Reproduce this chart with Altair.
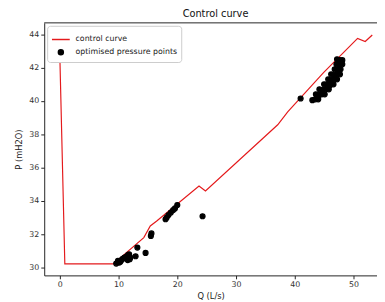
import altair as alt
import pandas as pd

# control curve (red line)
curve_q = [0.0, 0.85, 9.1, 14.3, 15.4, 16.5, 23.7, 24.8, 37.1, 38.8, 44.9, 50.7, 52.0, 53.2]
curve_p = [42.7, 30.22, 30.22, 31.8, 32.5, 32.8, 34.9, 34.6, 38.57, 39.35, 41.7, 43.76, 43.57, 43.96]

# optimised pressure points (black dots)
pts_q = [9.6, 9.9, 10.3, 10.5, 10.7, 11.0, 11.3, 11.55, 11.6, 11.8, 12.0, 10.1, 11.9, 12.9, 13.2, 14.6,
         15.5, 15.6, 18.0, 18.2, 18.5, 18.9, 19.3, 19.6, 20.0, 24.3,
         41.0,
         43.0, 43.5, 44.0,
         43.6, 44.1, 44.6, 45.1,
         44.2, 44.7, 45.2, 45.8,
         45.0, 45.5, 46.0, 46.6,
         45.7, 46.2, 46.7, 47.2,
         46.2, 46.7, 47.2, 47.7,
         46.8, 47.3, 47.8,
         47.1, 47.6, 48.1,
         47.2, 47.7, 48.1]
pts_p = [30.24, 30.4, 30.35, 30.45, 30.53, 30.6, 30.65, 30.45, 30.75, 30.8, 30.6, 30.3, 30.5, 30.68, 31.2, 30.88,
         31.9, 32.05, 32.9, 33.0, 33.15, 33.3, 33.45, 33.55, 33.75, 33.08,
         40.15,
         40.05, 40.1, 40.1,
         40.4, 40.35, 40.4, 40.4,
         40.7, 40.65, 40.7, 40.7,
         41.0, 41.0, 40.95, 41.0,
         41.3, 41.25, 41.3, 41.3,
         41.6, 41.55, 41.6, 41.6,
         41.9, 41.85, 41.9,
         42.2, 42.15, 42.2,
         42.5, 42.45, 42.45]

x_ticks = [0, 10, 20, 30, 40, 50]
y_ticks = [30, 32, 34, 36, 38, 40, 42, 44]
series = ["control curve", "optimised pressure points"]

curve_df = pd.DataFrame({"q": curve_q, "p": curve_p, "series": series[0]})
pts_df = pd.DataFrame({"q": pts_q, "p": pts_p, "series": series[1]})

FONT = "DejaVu Sans"
W, H = 340, 258

xscale = alt.Scale(domain=[-2.66, -2.66 + W / 6.0], nice=False, zero=False)
yscale = alt.Scale(domain=[29.53, 44.69], nice=False, zero=False)

legend = alt.Legend(title=None, orient="top-left", offset=3, padding=4,
                    strokeColor="#cccccc", fillColor="white", cornerRadius=3,
                    labelFont=FONT, labelFontSize=8, labelColor="#222222",
                    symbolStrokeWidth=1.5, rowPadding=3, labelOffset=5)

stroke_enc = alt.Stroke("series:N", scale=alt.Scale(domain=series, range=["#e41a1c", "black"]), legend=legend)
fill_enc = alt.Fill("series:N", scale=alt.Scale(domain=series, range=["#e41a1c", "black"]), legend=legend)
shape_enc = alt.Shape("series:N", scale=alt.Scale(domain=series, range=["stroke", "circle"]), legend=legend)
size_enc = alt.Size("series:N", scale=alt.Scale(domain=series, range=[330, 26]), legend=legend)

x_axis = alt.Axis(values=x_ticks, title="Q (L/s)", labelPadding=2, titlePadding=3)
y_axis = alt.Axis(values=y_ticks, title="P (mH2O)", labelPadding=2, titlePadding=6, labelOverlap=False)

line = alt.Chart(curve_df).mark_line(strokeWidth=1.2, clip=True).encode(
    x=alt.X("q:Q", scale=xscale, axis=x_axis),
    y=alt.Y("p:Q", scale=yscale, axis=y_axis),
    stroke=stroke_enc,
    order=alt.Order("idx:Q"),
).transform_window(idx="row_number()")

points = alt.Chart(pts_df).mark_point(filled=True, opacity=1, strokeWidth=1.2).encode(
    x=alt.X("q:Q", scale=xscale, axis=x_axis),
    y=alt.Y("p:Q", scale=yscale, axis=y_axis),
    fill=fill_enc,
    stroke=stroke_enc,
    shape=shape_enc,
    size=size_enc,
)

# top spine of the frame
top_spine = alt.Chart(pd.DataFrame({"a": [0]})).mark_rule(color="#222222", strokeWidth=1).encode(
    x=alt.value(0), x2=alt.value(W), y=alt.value(0)
)

chart = alt.layer(line, points, top_spine).properties(
    width=W, height=H,
    title=alt.TitleParams("Control curve", font=FONT, fontSize=10, fontWeight="normal",
                          color="#111111", offset=4, dx=5),
    autosize="none",
    padding={"left": 37, "top": 12, "right": 0, "bottom": 24},
).configure_view(strokeWidth=0).configure_axis(
    grid=False, domainColor="#222222", tickColor="#222222", tickSize=3.5,
    labelFont=FONT, labelFontSize=8, labelColor="#333333",
    titleFont=FONT, titleFontSize=8.5, titleFontWeight="normal", titleColor="#222222",
)

chart.save("out.html", embed_options={"renderer": "svg", "actions": False})
